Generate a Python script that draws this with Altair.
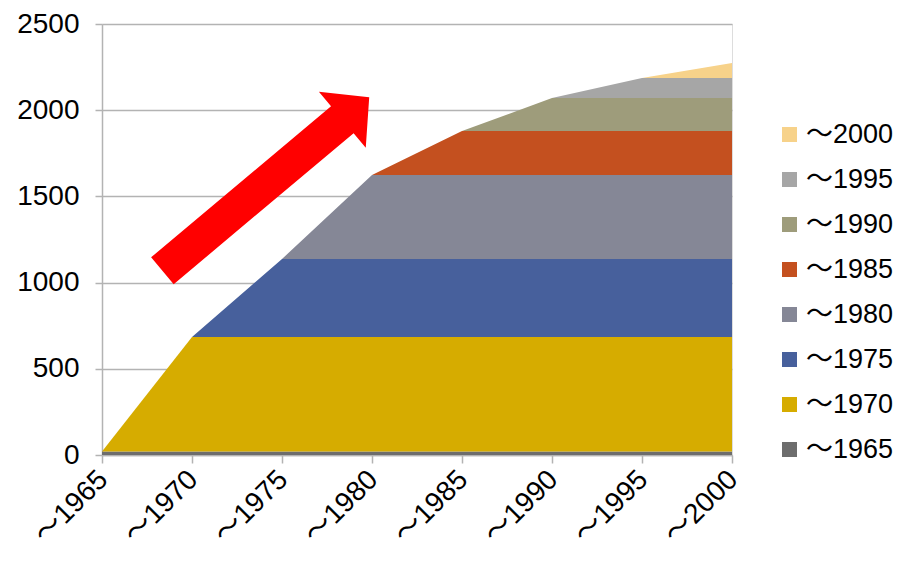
import altair as alt
import pandas as pd

years = [1965, 1970, 1975, 1980, 1985, 1990, 1995, 2000]
series = ["～1965", "～1970", "～1975", "～1980", "～1985", "～1990", "～1995", "～2000"]
series_start = [1965, 1970, 1975, 1980, 1985, 1990, 1995, 2000]
series_value = [20, 664, 453, 487, 255, 192, 116, 87]
colors = ["#6d6d6d", "#d6ac00", "#47609c", "#858796", "#c4501f", "#9e9c7b", "#a6a6a6", "#f7d28a"]

arrow_x = [1974.1]
arrow_y = [1572]

rows = []
for i, (name, start, val) in enumerate(zip(series, series_start, series_value)):
    for y in years:
        rows.append({"year": y, "series": name, "idx": i, "value": val if y >= start else 0})
df = pd.DataFrame(rows)

FONT = "Liberation Sans, Noto Sans CJK JP"
FS = 28

area = alt.Chart(df).mark_area(interpolate="linear").encode(
    x=alt.X("year:Q",
            scale=alt.Scale(domain=[1965, 2000], nice=False, zero=False),
            axis=alt.Axis(values=years, labelExpr="'～' + datum.value", labelAngle=-45,
                          labelAlign="right", labelBaseline="middle", labelFontSize=FS,
                          labelFont=FONT, labelColor="#000", labelPadding=12, labelOffset=1,
                          tickColor="#b3b3b3", tickSize=8, tickWidth=1.5,
                          domainColor="#b3b3b3", domainWidth=1.5, grid=False, title=None)),
    y=alt.Y("value:Q", stack="zero",
            scale=alt.Scale(domain=[0, 2500], nice=False),
            axis=alt.Axis(values=[0, 500, 1000, 1500, 2000, 2500], format="d",
                          labelFontSize=FS,
                          labelFont=FONT, labelColor="#000", labelPadding=16,
                          tickColor="#b3b3b3", tickSize=7, tickWidth=1.5,
                          gridColor="#b3b3b3", gridWidth=1.5,
                          domainColor="#b3b3b3", domainWidth=1.5, title=None)),
    color=alt.Color("series:N",
                    scale=alt.Scale(domain=list(reversed(series)), range=list(reversed(colors))),
                    legend=alt.Legend(title=None, orient="none", legendX=674, legendY=97,
                                      symbolType="square", symbolSize=225,
                                      symbolStrokeWidth=0, labelFontSize=27, labelFont=FONT,
                                      labelColor="#000", rowPadding=17, labelOffset=3)),
    order=alt.Order("idx:Q", sort="ascending"),
)

arrow_path = "M -0.13 1 L -0.13 -0.74 L -0.27 -0.74 L 0 -1 L 0.27 -0.74 L 0.13 -0.74 L 0.13 1 Z"
arrow_df = pd.DataFrame({"x": arrow_x, "y": arrow_y})
arrow = alt.Chart(arrow_df).mark_point(shape=arrow_path, filled=True, color="#ff0000",
                                       opacity=1, size=72900, angle=50, strokeWidth=0).encode(
    x="x:Q", y="y:Q")

chart = alt.layer(area, arrow).properties(
    width=630, height=431,
    autosize=alt.AutoSizeParams(type="none"),
    padding={"left": 94, "top": 16, "right": 161, "bottom": 97}
).configure_view(stroke=None).configure(background="white")

chart.save("out.html", embed_options={"renderer": "svg", "actions": False})
